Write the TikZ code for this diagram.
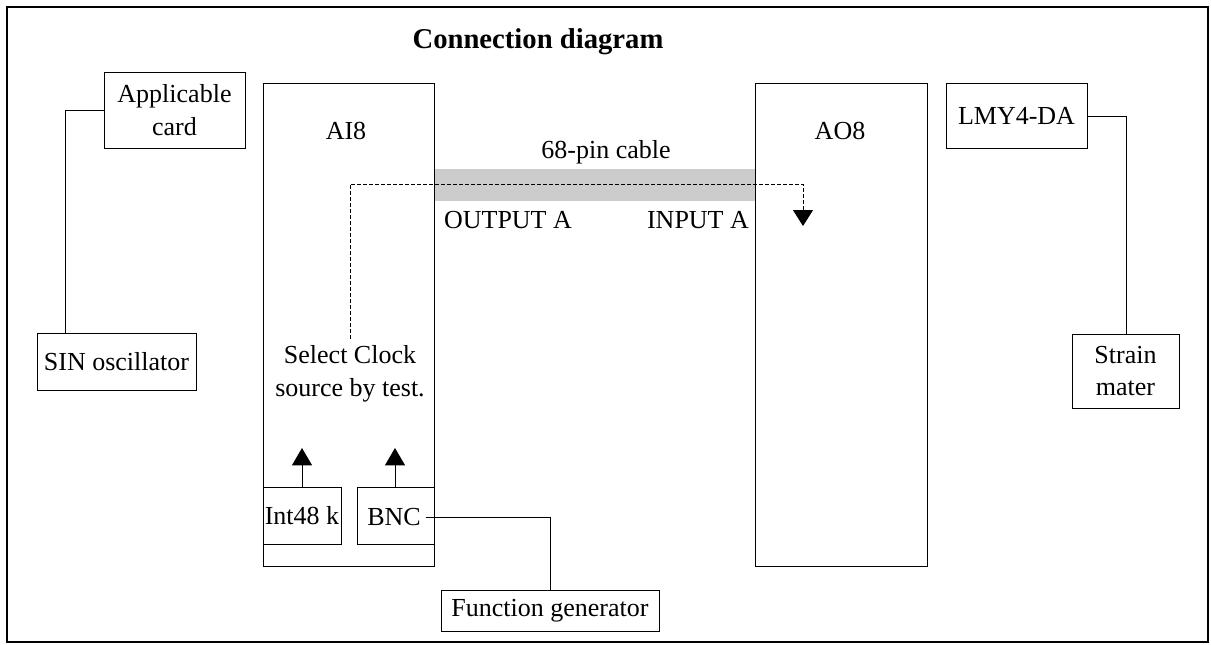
\documentclass[tikz,border=0pt]{standalone}
\usepackage{fontspec}
\setmainfont{Liberation Serif}
\usetikzlibrary{arrows.meta}
\begin{document}
\begin{tikzpicture}[x=0.75pt,y=-0.75pt,
  every node/.style={font=\fontsize{19.5}{24.5}\selectfont},
  box/.style={draw, line width=0.75pt, inner sep=0pt, align=center},
  txt/.style={inner sep=0pt, align=center},
  wire/.style={line width=0.75pt},
  uparrow/.style={line width=0.75pt, -{Triangle[width=15pt,length=13pt]}},
  dasharrow/.style={line width=0.75pt, dash pattern=on 3pt off 1.5pt, -{Triangle[width=15pt,length=12pt]}}]
\useasboundingbox (0,0) rectangle (1211,644);
\draw[line width=1.6pt] (7,7) rectangle (1208,642);
% title
\node[txt, font=\fontsize{21.5}{25}\selectfont\bfseries] (title) at (538,42) {Connection diagram};
% cable band
\fill[black!20] (434,169) rectangle (755,201);
% big boards
\node[box, minimum width=128.25pt, minimum height=362.25pt] (ai8box) at (348.5,324.5) {};
\node[box, minimum width=129pt, minimum height=362.25pt] (ao8box) at (841,324.5) {};
\node[txt] (ai8) at (346,131) {AI8};
\node[txt] (ao8) at (840,131) {AO8};
% cable labels
\node[txt] (cable) at (606,152) {68-pin cable};
\node[txt] (outa) at (508,220) {OUTPUT A};
\node[txt] (ina) at (698,220) {INPUT A};
% left side
\node[box, minimum width=105.75pt, minimum height=57pt] (appcard) at (174.5,110) {Applicable\\card};
\node[box, minimum width=119.25pt, minimum height=42.75pt] (sin) at (116.5,361.5) {SIN oscillator};
\coordinate (sinjoin) at (65,333);
\draw[wire] (appcard.west) -| (sinjoin);
% clock select
\node[txt, inner sep=5pt] (clk) at (350,374) {Select Clock\\source by test.};
\coordinate (dcorner) at (803,184);
\coordinate (dtip) at (803,226);
\draw[dasharrow] (clk.north) |- (dcorner) -- (dtip);
% small boxes in AI8
\node[box, minimum width=58.5pt, minimum height=42.75pt] (int) at (302,515.5) {Int48 k};
\node[box, minimum width=57.75pt, minimum height=42.75pt] (bncbox) at (395.5,515.5) {};
\node[txt, inner sep=3.5pt] (bnc) at (394,517) {BNC};
\coordinate (inttip) at (302,448);
\coordinate (bnctip) at (395,448);
\draw[uparrow] (int.north) -- (inttip);
\draw[uparrow] (bncbox.north -| bnctip) -- (bnctip);
% function generator
\node[box, minimum width=163.5pt, minimum height=30.75pt] (fg) at (550,610.5) {Function generator};
\draw[wire] (bnc.east) -| (fg.north);
% right side
\node[box, minimum width=105.75pt, minimum height=48.75pt] (lmy) at (1016.5,115.5) {LMY4-DA};
\node[box, minimum width=80.25pt, minimum height=55.5pt] (strain) at (1125.5,371) {Strain\\mater};
\coordinate (strainjoin) at (1126,334);
\draw[wire] ([yshift=-1pt]lmy.east) -| (strainjoin);
\end{tikzpicture}
\end{document}
